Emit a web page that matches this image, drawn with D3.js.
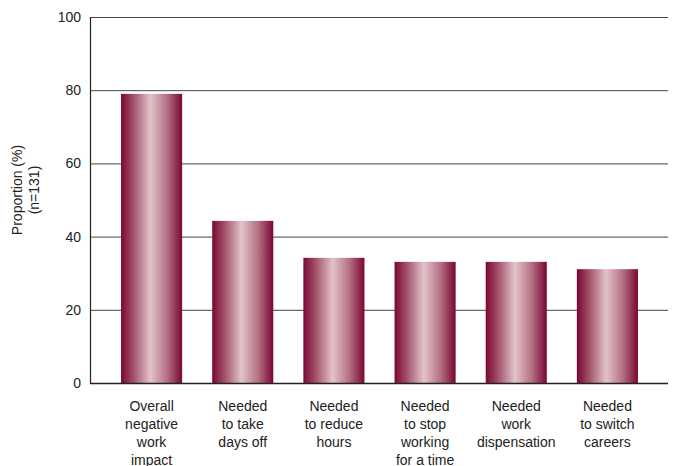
<!DOCTYPE html>
<html><head><meta charset="utf-8">
<script src="https://cdn.jsdelivr.net/npm/d3@7/dist/d3.min.js"></script>
<style>body{margin:0;background:#fff;} text{font-family:"Liberation Sans",Arial,sans-serif;fill:#222;}</style>
</head><body>
<svg id="c" width="674" height="466"></svg>
<script>
const categories = [
  ["Overall","negative","work","impact"],
  ["Needed","to take","days off"],
  ["Needed","to reduce","hours"],
  ["Needed","to stop","working","for a time"],
  ["Needed","work","dispensation"],
  ["Needed","to switch","careers"]
];
const values = [79, 44.3, 34.2, 33.1, 33.1, 31.1];
const yTicks = [0, 20, 40, 60, 80, 100];

const svg = d3.select("#c");
const x0 = 90, x1 = 668, yTop = 17, yBot = 383;
const x = d3.scaleBand().domain(d3.range(categories.length)).range([106, 653]).paddingInner(0.33).paddingOuter(0.165);
const y = d3.scaleLinear().domain([0, 100]).range([yBot, yTop]);

const defs = svg.append("defs");
const g = defs.append("linearGradient").attr("id","bg").attr("x1","0").attr("x2","1").attr("y1","0").attr("y2","0");
[[0,"#7a0634"],[0.2,"#a2506a"],[0.48,"#e2c3ca"],[0.75,"#b47184"],[1,"#7a0634"]].forEach(s=>g.append("stop").attr("offset",s[0]).attr("stop-color",s[1]));

// gridlines
svg.append("g").selectAll("line").data(yTicks.filter(d=>d>0)).join("line")
  .attr("x1",x0).attr("x2",x1).attr("y1",d=>y(d)+0.5).attr("y2",d=>y(d)+0.5)
  .attr("stroke","#444").attr("stroke-width",1);

// bars
svg.append("g").selectAll("rect").data(values).join("rect")
  .attr("x",(d,i)=>x(i)).attr("width",x.bandwidth())
  .attr("y",d=>y(d)).attr("height",d=>yBot-y(d))
  .attr("fill","url(#bg)");

// axes lines
svg.append("line").attr("x1",x0+0.5).attr("x2",x0+0.5).attr("y1",yTop).attr("y2",yBot+1).attr("stroke","#222").attr("stroke-width",1.2);
svg.append("line").attr("x1",x0).attr("x2",x1).attr("y1",yBot+0.5).attr("y2",yBot+0.5).attr("stroke","#222").attr("stroke-width",1.5);

// y tick labels
svg.append("g").selectAll("text").data(yTicks).join("text")
  .attr("x",81).attr("y",d=>y(d)+5).attr("text-anchor","end").attr("font-size",14).text(d=>d);

// y label
const yl = svg.append("text").attr("transform","translate(22,190) rotate(-90)").attr("text-anchor","middle").attr("font-size",14);
yl.append("tspan").attr("x",0).attr("dy",0).text("Proportion (%)");
yl.append("tspan").attr("x",0).attr("dy",17).text("(n=131)");

// x labels
const xl = svg.append("g").selectAll("text").data(categories).join("text")
  .attr("text-anchor","middle").attr("font-size",14)
  .attr("transform",(d,i)=>`translate(${x(i)+x.bandwidth()/2},411)`);
xl.selectAll("tspan").data(d=>d).join("tspan").attr("x",0).attr("dy",(d,j)=>j===0?0:18).text(d=>d);
</script>
</body></html>
